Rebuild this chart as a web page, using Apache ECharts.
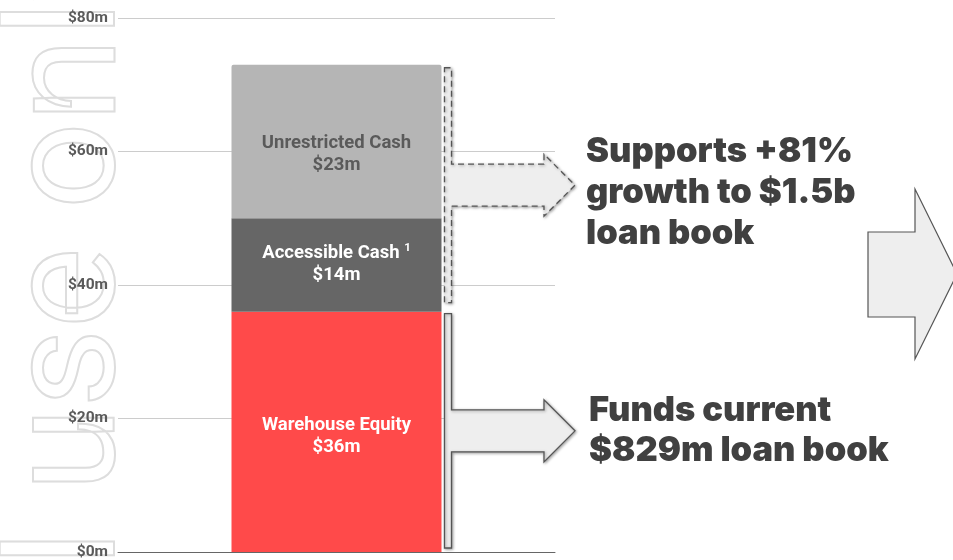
<!DOCTYPE html>
<html>
<head>
<meta charset="utf-8">
<script src="https://cdn.jsdelivr.net/npm/echarts@6/dist/echarts.min.js"></script>
<style>
html,body{margin:0;padding:0;background:#fff;}
#chart{width:953px;height:560px;}
</style>
</head>
<body>
<div id="chart"></div>
<script>
// ---- data ----
var categories = ['Capital'];
var seriesNames = ['Warehouse Equity', 'Accessible Cash', 'Unrestricted Cash'];
var warehouseEquity = [36];
var accessibleCash = [14];
var unrestrictedCash = [23];
var yTicks = [0, 20, 40, 60, 80];
var noteSupports = ['Supports +81%', 'growth to $1.5b', 'loan book'];
var noteFunds = ['Funds current', '$829m loan book'];
var watermark = 'For personal use only';

var chart = echarts.init(document.getElementById('chart'), null, {renderer: 'canvas'});

function lbl(name, val, color, sup) {
  return {
    show: true,
    position: 'inside',
    color: color,
    fontFamily: 'Roboto',
    fontWeight: 'bold',
    fontSize: 18.5,
    lineHeight: 22,
    align: 'center',
    formatter: function () {
      return name + (sup ? ' {sup|' + sup + '}' : '') + '\n$' + val + 'm';
    },
    rich: {
      sup: {fontSize: 11.5, fontFamily: 'Roboto', fontWeight: 'bold', color: color, verticalAlign: 'top', lineHeight: 22, padding: [0, 0, 9, 0]}
    }
  };
}

var option = {
  animation: false,
  backgroundColor: '#fff',
  grid: {left: 118, right: 398, top: 18, bottom: 8},
  xAxis: {
    type: 'category',
    data: categories,
    axisLine: {show: true, lineStyle: {color: '#666', width: 1}},
    axisTick: {show: false},
    axisLabel: {show: false}
  },
  yAxis: {
    type: 'value',
    min: yTicks[0],
    max: yTicks[yTicks.length - 1],
    interval: 20,
    axisLine: {show: false},
    axisTick: {show: false},
    splitLine: {lineStyle: {color: '#cccccc', width: 1}},
    axisLabel: {
      margin: 10,
      color: '#5a5a5a',
      fontFamily: 'Roboto',
      fontWeight: 'bold',
      fontSize: 15.5,
      formatter: function (v) { return '$' + v + 'm'; }
    }
  },
  series: [
    {
      name: seriesNames[0], type: 'bar', stack: 'total', barWidth: 210,
      data: warehouseEquity,
      itemStyle: {color: '#ff4a4a'},
      label: Object.assign(lbl('Warehouse Equity', warehouseEquity[0], '#fff'), {offset: [0, 5]}),
      z: 3
    },
    {
      name: seriesNames[1], type: 'bar', stack: 'total', barWidth: 210,
      data: accessibleCash,
      itemStyle: {color: '#666666'},
      label: Object.assign(lbl('Accessible Cash', accessibleCash[0], '#fff', '1'), {offset: [0, -1]}),
      z: 3
    },
    {
      name: seriesNames[2], type: 'bar', stack: 'total', barWidth: 210,
      data: unrestrictedCash,
      itemStyle: {color: '#b5b5b5', borderRadius: [2, 2, 0, 0]},
      label: Object.assign(lbl('Unrestricted Cash', unrestrictedCash[0], '#5a5a5a'), {offset: [0, 13]}),
      z: 3
    }
  ]
};
chart.setOption(option);

// annotations derived from axes
var total1 = warehouseEquity[0];
var total2 = warehouseEquity[0] + accessibleCash[0] + unrestrictedCash[0];
var py = function (v) { return chart.convertToPixel({yAxisIndex: 0}, v); };
var cx = chart.convertToPixel({xAxisIndex: 0}, 0);
var barRight = cx + 105;

function bracketArrow(top, bottom, dashed) {
  var sL = barRight + 3, sR = barRight + 10;
  var mid = (top + bottom) / 2;
  var shaftH = 21, headH = 31, headX = 544, tipX = 575;
  var pts = [
    [sL, top], [sR, top], [sR, mid - shaftH], [headX, mid - shaftH], [headX, mid - headH],
    [tipX, mid], [headX, mid + headH], [headX, mid + shaftH], [sR, mid + shaftH],
    [sR, bottom], [sL, bottom]
  ];
  return {
    type: 'polygon',
    shape: {points: pts},
    style: {
      fill: '#eeeeee', stroke: '#555', lineWidth: 1.3,
      lineDash: dashed ? [6, 4] : null,
      shadowBlur: 3, shadowColor: 'rgba(0,0,0,0.35)', shadowOffsetX: 1, shadowOffsetY: 1
    },
    z: 10
  };
}

var graphics = [
  {
    type: 'text',
    x: 76, y: -72,
    rotation: Math.PI / 2,
    silent: true,
    style: {
      text: watermark,
      font: '153px Roboto',
      fill: 'rgba(0,0,0,0)',
      stroke: '#dddddd',
      lineWidth: 2,
      align: 'right',
      verticalAlign: 'middle'
    },
    z: -10, zlevel: 0
  },
  bracketArrow(py(total2) + 3, py(total1) - 9, true),
  bracketArrow(py(total1) + 2, py(0) - 4, false),
  {
    type: 'polygon',
    shape: {points: [[868, 232], [915, 232], [915, 189], [957, 274], [915, 359], [915, 317], [868, 317]]},
    style: {fill: '#eeeeee', stroke: '#555', lineWidth: 1.2},
    z: 10
  },
  {
    type: 'text',
    x: 586, y: 131,
    style: {
      text: noteSupports.join('\n'),
      font: '900 34.5px Inter',
      fill: '#404040',
      lineHeight: 41,
      align: 'left',
      verticalAlign: 'top'
    },
    z: 10
  },
  {
    type: 'text',
    x: 589, y: 391,
    style: {
      text: noteFunds.join('\n'),
      font: '900 34.5px Inter',
      fill: '#404040',
      lineHeight: 40,
      align: 'left',
      verticalAlign: 'top'
    },
    z: 10
  }
];
chart.setOption({graphic: {elements: graphics}});
</script>
</body>
</html>
